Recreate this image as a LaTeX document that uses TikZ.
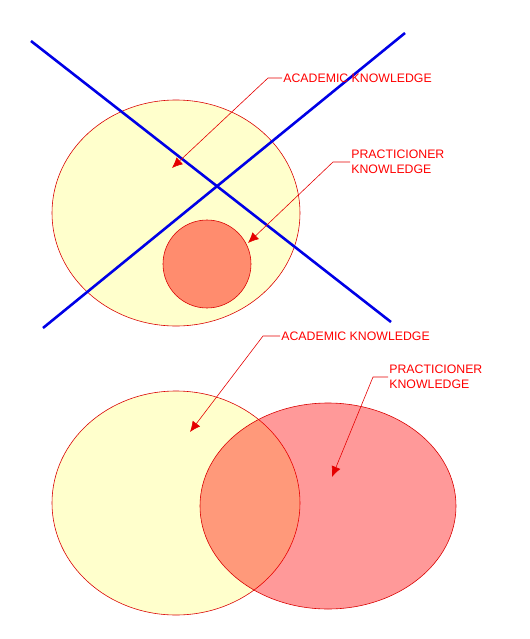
\documentclass[tikz,border=0pt]{standalone}
\usepackage{fontspec}
\setmainfont{Liberation Sans}
\usetikzlibrary{arrows.meta, positioning}
\definecolor{academicyellow}{RGB}{255,255,204}
\definecolor{practicered}{RGB}{255,0,0}
\definecolor{innersalmon}{RGB}{255,140,110}
\definecolor{crossblue}{RGB}{0,0,230}

\begin{document}
\begin{tikzpicture}[
    x=0.03cm, y=-0.03cm,
    blob/.style={draw=red!85!black, line width=0.5pt},
    academic/.style={blob, fill=academicyellow},
    practice/.style={blob, fill=innersalmon},
    overlap/.style={blob, fill=practicered, fill opacity=0.4},
    cross/.style={line width=2.2pt, color=crossblue},
    tag/.style={font=\fontsize{10.5}{12.5}\selectfont, text=red,
                inner sep=1pt, align=left},
    leader/.style={red!90!black, line width=0.5pt,
                   -{Latex[length=9pt, width=8pt]}},
]
\useasboundingbox (0,0) rectangle (530,639);

% ── Top: nested sets (crossed out) ─────────────────────────────────────
\draw[academic] (176,213) ellipse [x radius=124, y radius=113];
\draw[practice] (207,264) circle [radius=44];

\coordinate (crossA1) at (31,41);
\coordinate (crossA2) at (391,322);
\coordinate (crossB1) at (405,33);
\coordinate (crossB2) at (43,328);
\draw[cross] (crossA1) -- (crossA2);
\draw[cross] (crossB1) -- (crossB2);

\node[tag, anchor=west] (acadtop) at (282,78) {ACADEMIC KNOWLEDGE};
\node[tag, anchor=west] (practop) at (350,162)
      {PRACTICIONER\\KNOWLEDGE};
\coordinate (acadtoptip) at (172,168);
\coordinate (practoptip) at (248,243);
\draw[leader] (acadtop.west) -- ++(-14,0) -- (acadtoptip);
\draw[leader] (practop.west) -- ++(-17,0) -- (practoptip);

% ── Bottom: overlapping sets ───────────────────────────────────────────
\draw[academic] (176,503) ellipse [x radius=124, y radius=112];
\draw[overlap]  (328,506) ellipse [x radius=128, y radius=103];

\node[tag, anchor=west] (acadbot) at (280,336) {ACADEMIC KNOWLEDGE};
\node[tag, anchor=west] (pracbot) at (388,377)
      {PRACTICIONER\\KNOWLEDGE};
\coordinate (acadbottip) at (190,432);
\coordinate (pracbottip) at (332,477);
\draw[leader] (acadbot.west) -- ++(-17,0) -- (acadbottip);
\draw[leader] (pracbot.west) -- ++(-15,0) -- (pracbottip);

\end{tikzpicture}
\end{document}
